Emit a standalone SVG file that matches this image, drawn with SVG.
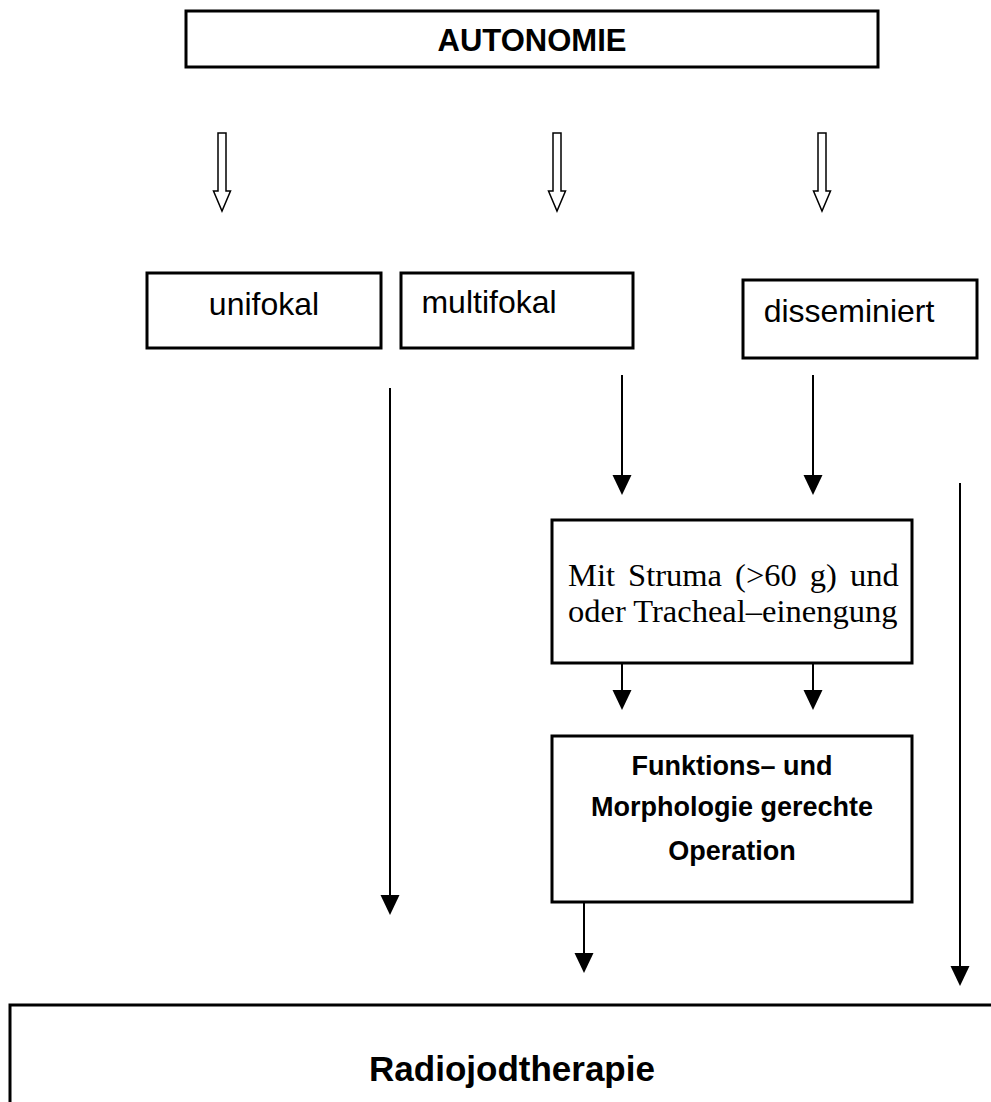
<svg xmlns="http://www.w3.org/2000/svg" width="991" height="1102" viewBox="0 0 991 1102">
<defs>
<marker id="ah" markerUnits="userSpaceOnUse" markerWidth="20" markerHeight="20" refX="0" refY="9.5" orient="auto">
<path d="M0,0 L20,9.5 L0,19 z" fill="#000"/>
</marker>
<style>
.box{fill:#fff;stroke:#000;stroke-width:3}
.sans{font-family:"Liberation Sans",Arial,sans-serif;fill:#000}
.serif{font-family:"Liberation Serif","Times New Roman",serif;fill:#000}
.b{font-weight:bold}
.conn{stroke:#000;stroke-width:2;fill:none}
.hollow{fill:#fff;stroke:#000;stroke-width:1.5}
</style>
</defs>
<rect width="991" height="1102" fill="#fff"/>
<g id="autonomie">
<rect class="box" x="186" y="11" width="692" height="56"/>
<text class="sans b" x="532" y="51" font-size="31" text-anchor="middle">AUTONOMIE</text>
</g>
<g id="unifokal">
<rect class="box" x="147" y="273" width="234" height="75"/>
<text class="sans" x="264" y="315" font-size="32" text-anchor="middle">unifokal</text>
</g>
<g id="multifokal">
<rect class="box" x="401" y="273" width="232" height="75"/>
<text class="sans" x="489" y="313" font-size="32" text-anchor="middle">multifokal</text>
</g>
<g id="disseminiert">
<rect class="box" x="743" y="280" width="234" height="78"/>
<text class="sans" x="849" y="322" font-size="32" text-anchor="middle">disseminiert</text>
</g>
<g id="struma">
<rect class="box" x="552" y="520" width="360" height="143"/>
<text class="serif" x="568" y="586" font-size="32.5" word-spacing="5">Mit Struma (&gt;60 g) und</text>
<text class="serif" x="568" y="622" font-size="32.5">oder Tracheal–einengung</text>
</g>
<g id="operation">
<rect class="box" x="552" y="736" width="360" height="166"/>
<text class="sans b" x="732" y="775" font-size="27" text-anchor="middle">Funktions– und</text>
<text class="sans b" x="732" y="816" font-size="27" text-anchor="middle">Morphologie gerechte</text>
<text class="sans b" x="732" y="860" font-size="27" text-anchor="middle">Operation</text>
</g>
<g id="radiojodtherapie">
<rect class="box" x="10" y="1005" width="1000" height="200"/>
<text class="sans b" x="512" y="1081" font-size="35" text-anchor="middle">Radiojodtherapie</text>
</g>
<g id="connectors">
<polygon class="hollow" points="218,133 226,133 226,191 230.5,191 222,211 213.5,191 218,191"/>
<polygon class="hollow" points="553,133 561,133 561,191 565.5,191 557,211 548.5,191 553,191"/>
<polygon class="hollow" points="818,133 826,133 826,191 830.5,191 822,211 813.5,191 818,191"/>
<line class="conn" x1="390" y1="388" x2="390" y2="895" marker-end="url(#ah)"/>
<line class="conn" x1="622" y1="375" x2="622" y2="475" marker-end="url(#ah)"/>
<line class="conn" x1="813" y1="375" x2="813" y2="475" marker-end="url(#ah)"/>
<line class="conn" x1="960" y1="483" x2="960" y2="966" marker-end="url(#ah)"/>
<line class="conn" x1="622" y1="663" x2="622" y2="690" marker-end="url(#ah)"/>
<line class="conn" x1="813" y1="663" x2="813" y2="690" marker-end="url(#ah)"/>
<line class="conn" x1="584" y1="902" x2="584" y2="953" marker-end="url(#ah)"/>
</g>
</svg>
